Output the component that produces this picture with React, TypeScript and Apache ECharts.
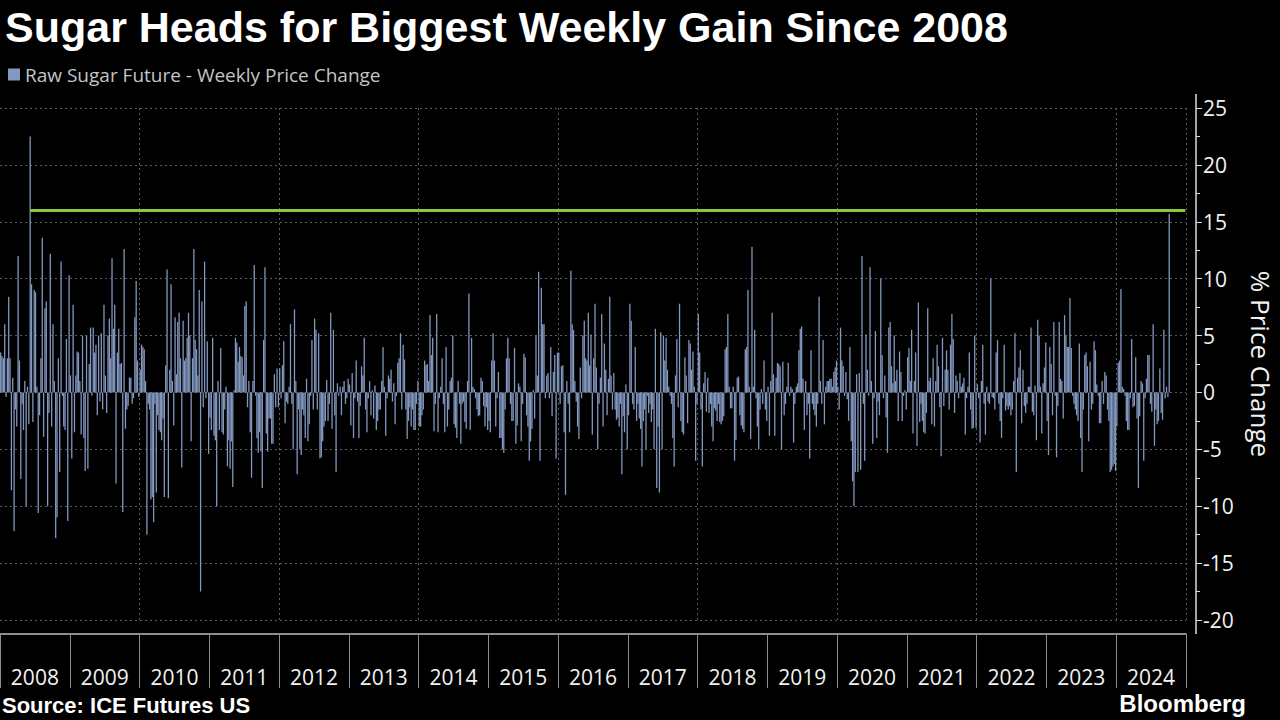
import React, { useEffect, useRef } from "react";
import * as echarts from "echarts";

const TITLE = "Sugar Heads for Biggest Weekly Gain Since 2008";
const SERIES_NAME = "Raw Sugar Future - Weekly Price Change";
const SOURCE_TEXT = "Source: ICE Futures US";
const BRAND_TEXT = "Bloomberg";
const Y_AXIS_NAME = "% Price Change";
const YEARS = ["2008", "2009", "2010", "2011", "2012", "2013", "2014", "2015", "2016", "2017", "2018", "2019", "2020", "2021", "2022", "2023", "2024"];
const WEEKS_PER_YEAR = 52;
const HIGHLIGHT_LEVEL = 16;
const Y_MIN = -20;
const Y_MAX = 25;
const Y_STEP = 5;

// Weekly % price change left to right (2008 -> 2024)
const part01 = [3.5, 3.2, 3, 6, -0.4, 3, 8.4, 3, -8.6, 1.3, -12.2, -1.5, -3, 12, 2.8, -7.6, -1, -3.3, 1, -10, 0.5, -2.8, 22.5, 9.5, -2.6, 9, 8.8, 0.5, -10.6, -2, 3, 13.6, -3.9, 7.4, 8, -10, -1.8, 12.2, -3, 6, 1, -12.8, -11, 3, -7, 11.5, -0.3, -3, -3.3, 4.7, -11.3, 10.3, 1.5, -5.8, 7.7, -3.5, 1.5, 3.6, 3.5, 1, -3.7, 5, -4, -6.9, 5, -6.7, 2.5, 5.7, -0.3, 5.7, 3.5, 4.2, -2, 5, -0.8];
const part02 = [5.2, -1.5, 7.7, 1.5, -1.8, 5, 6.5, 3, 11.8, 5.6, 7.7, -8, 3.5, 5.6, 2.5, 2.6, -10.5, 12.6, -3.2, -1.5, -1.2, 1.3, 1.3, -1, -0.5, 6.6, 9.8, 2.8, -0.4, 2, 4.2, 4, 3.8, 1, -12.5, -1, -1.5, -9.4, -9.2, -11.4, -1, -8.8, -2, -3.3, -3.5, -4.2, -2.3, -9.2, 2.4, 10.8, -9.3, 2, 9.5, 1, -2.9, 6.6, 1.6, 6.2, 7, 3, -6.6, 6.3, 2.8, 3, 4.8, 7, 5, -4.3, 3, 12.6, 4.6, 3.8, 1.5, 9];
const part03 = [-17.5, 8, -1.3, 11.5, -0.5, 4.5, -5.4, -2.2, -3.3, 4.8, -3.8, -4.2, -10, 1, -3.3, 3.9, -3.5, -3.7, -1.5, 0.5, -6.5, -4.2, -6.7, -4.3, -8.3, 0.2, 4.8, 4.4, 2.7, 4, 3.2, 3.1, 1.5, 7.6, 8, -1.3, 1, -3.5, -7.5, 1, 11.2, -0.3, -4, -5.3, -3.5, -5.2, -8.4, 4.6, 11, -3.6, -5.2, -2.3, -2.3, -4.5, -4.5, 1.6, -1.3, 2.1, -1.3, 2.1, -0.5, 2.4, 4.5, -2.7, -0.8, -1, 0.5, 6, -1, -5, 7.3, 1, -7.2, -1.5, -5];
const part04 = [-5.5, -1.5, -2, -4, 1.2, -4.3, -2.8, -0.3, 4.6, -1.5, 6.5, 5.5, -1.5, 5.2, -5.8, -5.7, -4.3, -3, -2.5, 1.1, -2.5, -1, 7, -3.2, 5.5, -2, -7, 0.8, -0.3, 0.5, -2, 0.5, 1, -1, -0.5, 1.2, 0.7, -2.9, 1.7, -4, -0.5, 2.8, -0.8, -4, -1.2, 2.3, 1.5, 4.8, -1.5, -3.5, -0.5, 1, -2, 0.2, -2.3, 0.6, -3.3, -2.5, -1.5, -1.5, 1, 4, 0.5, -3.8, -0.5, 1.5, 1.2, 2, -0.8, 0.8, -2.8, -0.3, 2.6, 3, 5.2];
const part05 = [-1.5, 4.2, 2.9, -1.5, -4.1, -2.5, -1.3, -3, -1.5, -3.3, -3.3, -1, 1, -3, -3, -2, -1.5, 2.8, 2.4, 2.5, 1, 6.8, 3.3, 4.8, -3.4, -1, 6.9, -3.5, -0.5, 0.5, 3, -1, -3.5, 4, -3, -1.5, 1, 1.3, 5, -2.8, -3.1, -4, 1, -1, -4.5, -1, -0.8, -2.6, -3.2, 1, 8.7, -3.3, 4.8, 0.5, 0.3, -0.5, -1.5, -2.1, -2, 1.3, 1, -1.2, -3, -1.3, -3.3, -2.5, -3.5, 2.8, 5.2, 2.8, -3, -0.5, 1.8, -4];
const part06 = [-4, -5, -5.3, -1.5, 3, 4.8, 3, -1, -2.5, -2.5, 3.9, -4.5, -2.9, 0.8, 0.5, -4.3, -1, 3.4, 3.1, -2, -3, -6, -4.3, -3.2, 0.2, -2.3, 5, 1.5, 10.6, -6, 9.2, 6, 6, -0.5, 1.5, 1.7, -0.5, 4, -2.1, 1.8, 3.3, -5.8, 3.5, 3.5, -1, 2.3, 2.4, -3.5, -9, 1, -1, -3.5, 10.7, 6, 5.5, 1, -0.8, -3, -4.1, 2.2, -0.5, 5, 6.3, 3, 2.8, 7, 2.4, 5.1, -3.7, 3, 7.8, 2.2, -5, -1, 1.3];
const part07 = [6.9, -3, 4.3, 2, -2, 1.2, 8.4, 1.5, -1.5, 1.7, -1.5, -2.4, -2.2, -3, -1, -7.2, -2.1, -3.5, 0.7, -5, -2, 7.8, 6.3, -1, -1.5, 4, -2.5, -1, -2.3, -3.2, -6.5, -2.5, -1.5, -5, -0.3, -1.8, -1, -2.6, -1.5, -5, 5.6, -8.4, -3, -8.8, 5.3, -5, 5, 2.8, 4.8, 2, 0.5, -0.3, -1, -4, -6.5, 1.5, 4.7, -1.3, 7.8, -2.5, -3.5, -3.7, 3.1, 1.5, -2.7, 4.6, 4.3, 2, 3.6, 0.5, -6, -1, 6.9, 3.5];
const part08 = [-1.5, -6.5, 0.8, 1.8, -1.7, 1.3, -1.8, -1, -3, -4.3, -1.4, -1.6, -2.5, -1, -2.6, -2.8, -2.5, -2.1, 3.8, 4, 6.9, 0.5, -1.4, -1.4, 0.5, -6, -4.2, 1.3, 1.4, -2, -2.9, -3.2, -3.5, 3.8, 4, 9, 0.5, -4.1, 12.8, 0.5, 5.5, -0.5, -3, -5, -1.5, 0.3, -1, 2.8, -1.5, -2.5, 0.5, -3.8, 1, 7, 1.6, -3.8, 1.3, 2.6, 2.5, 2.3, -5, 2.7, -2, -1, 0.5, 2.6, -0.3, 0.5, 0.3, -4.4, -1, 0.5, 0.8, 3.7, 5.6];
const part09 = [5.8, 1.2, -3.3, 1, -2, -1, -5.8, 3.7, -1, -1.5, -2, -3, -1, 8.4, 1, -1, 4.6, -2.8, 0.5, 1, 1, 1.2, 1.2, 0.5, 1.8, 2.2, 2.8, 0.5, -1.5, 5.7, 2.8, 2.3, -0.3, 1.8, -0.6, -2.5, 4, -4.3, -7.8, -10, -7, 1.6, -7, 1.7, -6.8, 12, -1, -6, 5.1, 2, -0.3, 11, 1, -4.5, -0.5, 5.4, -4, -0.8, -2, 10, 3.3, -0.5, 1.5, -2.2, -5.3, 5.7, 6.2, 2.3, 0.8, 5, 1, 2, -2.5, 3.6];
const part10 = [1.8, -2.5, -0.3, 0.2, -1.5, 3.1, 3.9, 1, 5.5, -3.6, 1, 3.5, -4.7, 7.9, -2.6, -1, -2.5, -3.5, -3.6, -1.8, 7.4, 1, 1.3, -2.8, 3, -3, 1, 4.2, 2.3, -1.3, -5.6, 4.8, -1.2, 2, 3.7, 2, -1.5, 4.2, 6.9, 4.7, -1.8, 1.5, 1, -0.5, 1.7, 0.5, 0.8, 1.3, -3.7, -0.5, 0.5, 3.5, -1.5, -3.2, -3.1, 5, -3.1, 0.7, -0.5, -4.4, 1, 4.2, -1, -3.7, 0.5, -0.8, -1, 10, -0.4, -0.5, -1.5, 3.5, 4.6, -1, -2.5];
const part11 = [-4, -0.5, 4.2, -1.6, -1.2, -1.5, -1.2, -2, -1.5, 1, 5.2, -7, 1.3, 2.2, 3.7, -2.7, 2, -1.2, -1.8, -1, 0.5, 0.5, 5.7, -1.7, -2, 0.6, -4.2, 6.4, 5, 0.5, -3.6, 0.8, 2.2, 4.4, -2.5, -5.5, 4, 2.5, -2, 6.2, -0.3, -5.7, -1.2, 6.2, 1.2, 1, -2.3, 6.8, 5, 4, 4, 8.3, 3.9, -0.3, -1, -1.5, -2, -2.5, 4.3, -4, -7, -1.5, 3.3, 3.5, 2.3, -4.3, 2.7, -1.5, -1, 4.5, 3.7, 0.7, -0.3, -2.7];
const part12 = [-2.7, 1, -1, 1.8, 1.5, -1.5, -2.5, -7, -6.8, -6.5, -6.3, -6.9, -3, 2.6, 2.8, 9.1, 0.5, 0.3, -0.3, -2.5, -3.3, -3.3, -0.5, 4.7, -1.3, -1.2, 3.1, -2.3, -8.4, -2.1, 1, 0.8, -6, -0.5, 1.2, 3.3, 3.3, -1, -1.7, 6, -4.7, -1.5, -2.8, -2.5, 2.1, -1.8, -2.4, 5.5, -0.5, 0.5, -0.4, 15.7];

const weeklyChange: number[] = [
  ...part01, ...part02, ...part03, ...part04, ...part05, ...part06,
  ...part07, ...part08, ...part09, ...part10, ...part11, ...part12,
];

const weekSlots: string[] = Array.from({ length: YEARS.length * WEEKS_PER_YEAR }, (_, i) => `W${i + 1}`);

const BAR_COLOR = "#8398c0";
const HIGHLIGHT_COLOR = "#8dc63f";
const GRID_COLOR = "#5c5c5c";
const TEXT_COLOR = "#f2f2f2";

export default function App() {
  const ref = useRef<HTMLDivElement>(null);

  useEffect(() => {
    if (!ref.current) return;
    const chart = echarts.init(ref.current, undefined, { renderer: "svg" });
    const peakIndex = weeklyChange.indexOf(Math.max(...weeklyChange.slice(0, 100)));

    chart.setOption({
      animation: false,
      backgroundColor: "#000000",
      title: {
        text: TITLE,
        left: 0,
        top: 0,
        textStyle: {
          color: "#ffffff",
          fontSize: 43,
          fontWeight: "bold",
          fontFamily: "'Liberation Sans', Arial, sans-serif",
        },
      },
      legend: {
        left: 3,
        top: 60,
        icon: "rect",
        itemWidth: 12,
        itemHeight: 12,
        itemGap: 8,
        data: [SERIES_NAME],
        textStyle: { color: "#c4c4c4", fontSize: 19, fontFamily: "'Open Sans', sans-serif" },
      },
      grid: { left: 0, right: 94, top: 108, bottom: 100, containLabel: false, outerBoundsMode: "none" },
      xAxis: [
        {
          type: "category",
          data: weekSlots,
          show: false,
          boundaryGap: true,
        },
        {
          type: "category",
          data: YEARS,
          position: "bottom",
          offset: 14,
          boundaryGap: true,
          axisLine: { show: true, lineStyle: { color: "#bdbdbd", width: 1.5 } },
          axisTick: { show: true, interval: 0, length: 54, lineStyle: { color: "#8c8c8c" } },
          axisLabel: {
            color: TEXT_COLOR,
            fontSize: 21,
            margin: 32,
            interval: 0,
            fontFamily: "'Open Sans', sans-serif",
          },
          splitLine: {
            show: true,
            interval: (index: number) => index > 0 && index % 2 === 0,
            lineStyle: { color: GRID_COLOR, type: [2, 3] },
          },
        },
      ],
      yAxis: {
        type: "value",
        position: "right",
        offset: 10,
        min: Y_MIN,
        max: Y_MAX,
        interval: Y_STEP,
        name: Y_AXIS_NAME,
        nameLocation: "middle",
        nameRotate: -90,
        nameGap: 52,
        nameTextStyle: { color: TEXT_COLOR, fontSize: 26, fontFamily: "'Open Sans', sans-serif" },
        axisLine: { show: false },
        axisTick: { show: true, length: 6, lineStyle: { color: "#dddddd" } },
        minorTick: { show: true, splitNumber: 2, length: 4, lineStyle: { color: "#dddddd" } },
        axisLabel: { color: TEXT_COLOR, fontSize: 21, margin: 7, fontFamily: "'Open Sans', sans-serif" },
        splitLine: { show: true, lineStyle: { color: GRID_COLOR, type: [2, 3] } },
      },
      series: [
        {
          type: "bar",
          name: SERIES_NAME,
          data: weeklyChange,
          xAxisIndex: 0,
          yAxisIndex: 0,
          barCategoryGap: "4%",
          itemStyle: { color: BAR_COLOR },
          markLine: {
            silent: true,
            symbol: ["none", "none"],
            label: { show: false },
            lineStyle: { color: HIGHLIGHT_COLOR, width: 3, type: "solid" },
            data: [
              [
                { coord: [weekSlots[peakIndex], HIGHLIGHT_LEVEL] },
                { coord: [weekSlots[weekSlots.length - 1], HIGHLIGHT_LEVEL] },
              ],
            ],
          },
        },
      ],
      graphic: [
        {
          type: "line",
          shape: { x1: 1196, y1: 94, x2: 1196, y2: 634 },
          style: { stroke: "#dddddd", lineWidth: 1.5 },
          silent: true,
        },
        {
          type: "text",
          left: 2,
          top: 694,
          style: {
            text: SOURCE_TEXT,
            fill: "#ffffff",
            font: "bold 22px 'Liberation Sans', Arial, sans-serif",
          },
        },
        {
          type: "text",
          right: 34,
          top: 691,
          style: {
            text: BRAND_TEXT,
            fill: "#ffffff",
            font: "bold 24px 'Liberation Sans', Arial, sans-serif",
          },
        },
      ],
    });

    return () => {
      chart.dispose();
    };
  }, []);

  return (
    <div
      ref={ref}
      style={{ position: "fixed", left: 0, top: 0, width: 1280, height: 720, background: "#000" }}
    />
  );
}
